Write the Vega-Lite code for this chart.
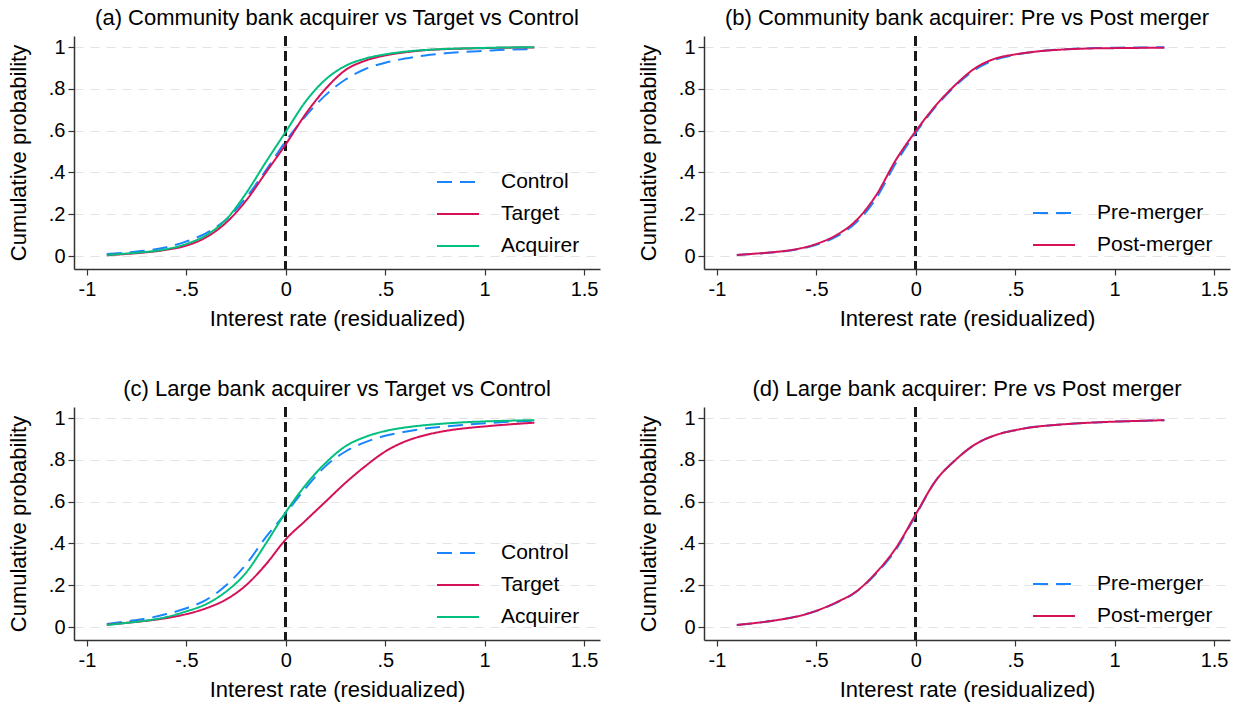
{
  "$schema": "https://vega.github.io/schema/vega-lite/v6.json",
  "background": "white",
  "padding": {"left": 7, "top": 7, "right": 5, "bottom": 5},
  "columns": 2,
  "spacing": {"row": 49, "column": 37},
  "resolve": {"scale": {"color": "independent", "strokeDash": "independent"}},
  "data": {"values": [
    {"panel":"a","series":"Control","x":-0.9,"p":0.01},{"panel":"a","series":"Control","x":-0.8,"p":0.017},{"panel":"a","series":"Control","x":-0.7,"p":0.026},{"panel":"a","series":"Control","x":-0.6,"p":0.042},{"panel":"a","series":"Control","x":-0.5,"p":0.07},{"panel":"a","series":"Control","x":-0.4,"p":0.11},{"panel":"a","series":"Control","x":-0.3,"p":0.175},{"panel":"a","series":"Control","x":-0.2,"p":0.28},{"panel":"a","series":"Control","x":-0.1,"p":0.41},{"panel":"a","series":"Control","x":0,"p":0.55},{"panel":"a","series":"Control","x":0.1,"p":0.67},{"panel":"a","series":"Control","x":0.2,"p":0.77},{"panel":"a","series":"Control","x":0.3,"p":0.845},{"panel":"a","series":"Control","x":0.4,"p":0.895},{"panel":"a","series":"Control","x":0.5,"p":0.925},{"panel":"a","series":"Control","x":0.6,"p":0.945},{"panel":"a","series":"Control","x":0.7,"p":0.96},{"panel":"a","series":"Control","x":0.8,"p":0.97},{"panel":"a","series":"Control","x":0.9,"p":0.977},{"panel":"a","series":"Control","x":1.0,"p":0.982},{"panel":"a","series":"Control","x":1.1,"p":0.987},{"panel":"a","series":"Control","x":1.25,"p":0.99},
    {"panel":"a","series":"Target","x":-0.9,"p":0.004},{"panel":"a","series":"Target","x":-0.8,"p":0.01},{"panel":"a","series":"Target","x":-0.7,"p":0.018},{"panel":"a","series":"Target","x":-0.6,"p":0.03},{"panel":"a","series":"Target","x":-0.5,"p":0.05},{"panel":"a","series":"Target","x":-0.4,"p":0.09},{"panel":"a","series":"Target","x":-0.3,"p":0.16},{"panel":"a","series":"Target","x":-0.2,"p":0.265},{"panel":"a","series":"Target","x":-0.1,"p":0.4},{"panel":"a","series":"Target","x":0,"p":0.535},{"panel":"a","series":"Target","x":0.1,"p":0.68},{"panel":"a","series":"Target","x":0.2,"p":0.8},{"panel":"a","series":"Target","x":0.3,"p":0.89},{"panel":"a","series":"Target","x":0.4,"p":0.935},{"panel":"a","series":"Target","x":0.5,"p":0.96},{"panel":"a","series":"Target","x":0.6,"p":0.975},{"panel":"a","series":"Target","x":0.7,"p":0.985},{"panel":"a","series":"Target","x":0.8,"p":0.99},{"panel":"a","series":"Target","x":0.9,"p":0.993},{"panel":"a","series":"Target","x":1.0,"p":0.995},{"panel":"a","series":"Target","x":1.1,"p":0.997},{"panel":"a","series":"Target","x":1.25,"p":0.998},
    {"panel":"a","series":"Acquirer","x":-0.9,"p":0.005},{"panel":"a","series":"Acquirer","x":-0.8,"p":0.012},{"panel":"a","series":"Acquirer","x":-0.7,"p":0.02},{"panel":"a","series":"Acquirer","x":-0.6,"p":0.033},{"panel":"a","series":"Acquirer","x":-0.5,"p":0.058},{"panel":"a","series":"Acquirer","x":-0.4,"p":0.1},{"panel":"a","series":"Acquirer","x":-0.3,"p":0.175},{"panel":"a","series":"Acquirer","x":-0.2,"p":0.3},{"panel":"a","series":"Acquirer","x":-0.1,"p":0.45},{"panel":"a","series":"Acquirer","x":0,"p":0.595},{"panel":"a","series":"Acquirer","x":0.1,"p":0.74},{"panel":"a","series":"Acquirer","x":0.2,"p":0.845},{"panel":"a","series":"Acquirer","x":0.3,"p":0.91},{"panel":"a","series":"Acquirer","x":0.4,"p":0.945},{"panel":"a","series":"Acquirer","x":0.5,"p":0.965},{"panel":"a","series":"Acquirer","x":0.6,"p":0.978},{"panel":"a","series":"Acquirer","x":0.7,"p":0.986},{"panel":"a","series":"Acquirer","x":0.8,"p":0.991},{"panel":"a","series":"Acquirer","x":0.9,"p":0.994},{"panel":"a","series":"Acquirer","x":1.0,"p":0.996},{"panel":"a","series":"Acquirer","x":1.1,"p":0.998},{"panel":"a","series":"Acquirer","x":1.25,"p":0.999},
    {"panel":"b","series":"Pre-merger","x":-0.9,"p":0.005},{"panel":"b","series":"Pre-merger","x":-0.8,"p":0.011},{"panel":"b","series":"Pre-merger","x":-0.7,"p":0.019},{"panel":"b","series":"Pre-merger","x":-0.6,"p":0.031},{"panel":"b","series":"Pre-merger","x":-0.5,"p":0.054},{"panel":"b","series":"Pre-merger","x":-0.4,"p":0.093},{"panel":"b","series":"Pre-merger","x":-0.3,"p":0.16},{"panel":"b","series":"Pre-merger","x":-0.2,"p":0.275},{"panel":"b","series":"Pre-merger","x":-0.1,"p":0.445},{"panel":"b","series":"Pre-merger","x":0,"p":0.59},{"panel":"b","series":"Pre-merger","x":0.1,"p":0.715},{"panel":"b","series":"Pre-merger","x":0.2,"p":0.815},{"panel":"b","series":"Pre-merger","x":0.3,"p":0.893},{"panel":"b","series":"Pre-merger","x":0.4,"p":0.94},{"panel":"b","series":"Pre-merger","x":0.5,"p":0.963},{"panel":"b","series":"Pre-merger","x":0.6,"p":0.978},{"panel":"b","series":"Pre-merger","x":0.7,"p":0.987},{"panel":"b","series":"Pre-merger","x":0.8,"p":0.992},{"panel":"b","series":"Pre-merger","x":0.9,"p":0.995},{"panel":"b","series":"Pre-merger","x":1.0,"p":0.997},{"panel":"b","series":"Pre-merger","x":1.1,"p":0.998},{"panel":"b","series":"Pre-merger","x":1.25,"p":0.999},
    {"panel":"b","series":"Post-merger","x":-0.9,"p":0.005},{"panel":"b","series":"Post-merger","x":-0.8,"p":0.012},{"panel":"b","series":"Post-merger","x":-0.7,"p":0.02},{"panel":"b","series":"Post-merger","x":-0.6,"p":0.033},{"panel":"b","series":"Post-merger","x":-0.5,"p":0.058},{"panel":"b","series":"Post-merger","x":-0.4,"p":0.1},{"panel":"b","series":"Post-merger","x":-0.3,"p":0.17},{"panel":"b","series":"Post-merger","x":-0.2,"p":0.29},{"panel":"b","series":"Post-merger","x":-0.1,"p":0.46},{"panel":"b","series":"Post-merger","x":0,"p":0.598},{"panel":"b","series":"Post-merger","x":0.1,"p":0.72},{"panel":"b","series":"Post-merger","x":0.2,"p":0.82},{"panel":"b","series":"Post-merger","x":0.3,"p":0.9},{"panel":"b","series":"Post-merger","x":0.4,"p":0.945},{"panel":"b","series":"Post-merger","x":0.5,"p":0.965},{"panel":"b","series":"Post-merger","x":0.6,"p":0.978},{"panel":"b","series":"Post-merger","x":0.7,"p":0.986},{"panel":"b","series":"Post-merger","x":0.8,"p":0.991},{"panel":"b","series":"Post-merger","x":0.9,"p":0.994},{"panel":"b","series":"Post-merger","x":1.0,"p":0.995},{"panel":"b","series":"Post-merger","x":1.1,"p":0.996},{"panel":"b","series":"Post-merger","x":1.25,"p":0.997},
    {"panel":"c","series":"Control","x":-0.9,"p":0.015},{"panel":"c","series":"Control","x":-0.8,"p":0.027},{"panel":"c","series":"Control","x":-0.7,"p":0.041},{"panel":"c","series":"Control","x":-0.6,"p":0.062},{"panel":"c","series":"Control","x":-0.5,"p":0.09},{"panel":"c","series":"Control","x":-0.4,"p":0.13},{"panel":"c","series":"Control","x":-0.3,"p":0.2},{"panel":"c","series":"Control","x":-0.2,"p":0.3},{"panel":"c","series":"Control","x":-0.1,"p":0.43},{"panel":"c","series":"Control","x":0,"p":0.545},{"panel":"c","series":"Control","x":0.1,"p":0.665},{"panel":"c","series":"Control","x":0.2,"p":0.77},{"panel":"c","series":"Control","x":0.3,"p":0.84},{"panel":"c","series":"Control","x":0.4,"p":0.885},{"panel":"c","series":"Control","x":0.5,"p":0.915},{"panel":"c","series":"Control","x":0.6,"p":0.935},{"panel":"c","series":"Control","x":0.7,"p":0.95},{"panel":"c","series":"Control","x":0.8,"p":0.96},{"panel":"c","series":"Control","x":0.9,"p":0.968},{"panel":"c","series":"Control","x":1.0,"p":0.975},{"panel":"c","series":"Control","x":1.1,"p":0.981},{"panel":"c","series":"Control","x":1.25,"p":0.988},
    {"panel":"c","series":"Target","x":-0.9,"p":0.011},{"panel":"c","series":"Target","x":-0.8,"p":0.02},{"panel":"c","series":"Target","x":-0.7,"p":0.03},{"panel":"c","series":"Target","x":-0.6,"p":0.043},{"panel":"c","series":"Target","x":-0.5,"p":0.062},{"panel":"c","series":"Target","x":-0.4,"p":0.09},{"panel":"c","series":"Target","x":-0.3,"p":0.132},{"panel":"c","series":"Target","x":-0.2,"p":0.2},{"panel":"c","series":"Target","x":-0.1,"p":0.3},{"panel":"c","series":"Target","x":0,"p":0.42},{"panel":"c","series":"Target","x":0.1,"p":0.51},{"panel":"c","series":"Target","x":0.2,"p":0.6},{"panel":"c","series":"Target","x":0.3,"p":0.69},{"panel":"c","series":"Target","x":0.4,"p":0.77},{"panel":"c","series":"Target","x":0.5,"p":0.84},{"panel":"c","series":"Target","x":0.6,"p":0.888},{"panel":"c","series":"Target","x":0.7,"p":0.918},{"panel":"c","series":"Target","x":0.8,"p":0.938},{"panel":"c","series":"Target","x":0.9,"p":0.951},{"panel":"c","series":"Target","x":1.0,"p":0.96},{"panel":"c","series":"Target","x":1.1,"p":0.968},{"panel":"c","series":"Target","x":1.25,"p":0.978},
    {"panel":"c","series":"Acquirer","x":-0.9,"p":0.01},{"panel":"c","series":"Acquirer","x":-0.8,"p":0.02},{"panel":"c","series":"Acquirer","x":-0.7,"p":0.031},{"panel":"c","series":"Acquirer","x":-0.6,"p":0.048},{"panel":"c","series":"Acquirer","x":-0.5,"p":0.075},{"panel":"c","series":"Acquirer","x":-0.4,"p":0.11},{"panel":"c","series":"Acquirer","x":-0.3,"p":0.17},{"panel":"c","series":"Acquirer","x":-0.2,"p":0.26},{"panel":"c","series":"Acquirer","x":-0.1,"p":0.4},{"panel":"c","series":"Acquirer","x":0,"p":0.55},{"panel":"c","series":"Acquirer","x":0.1,"p":0.68},{"panel":"c","series":"Acquirer","x":0.2,"p":0.785},{"panel":"c","series":"Acquirer","x":0.3,"p":0.865},{"panel":"c","series":"Acquirer","x":0.4,"p":0.91},{"panel":"c","series":"Acquirer","x":0.5,"p":0.938},{"panel":"c","series":"Acquirer","x":0.6,"p":0.955},{"panel":"c","series":"Acquirer","x":0.7,"p":0.966},{"panel":"c","series":"Acquirer","x":0.8,"p":0.974},{"panel":"c","series":"Acquirer","x":0.9,"p":0.98},{"panel":"c","series":"Acquirer","x":1.0,"p":0.984},{"panel":"c","series":"Acquirer","x":1.1,"p":0.987},{"panel":"c","series":"Acquirer","x":1.25,"p":0.99},
    {"panel":"d","series":"Pre-merger","x":-0.9,"p":0.01},{"panel":"d","series":"Pre-merger","x":-0.8,"p":0.02},{"panel":"d","series":"Pre-merger","x":-0.7,"p":0.033},{"panel":"d","series":"Pre-merger","x":-0.6,"p":0.05},{"panel":"d","series":"Pre-merger","x":-0.5,"p":0.077},{"panel":"d","series":"Pre-merger","x":-0.4,"p":0.116},{"panel":"d","series":"Pre-merger","x":-0.3,"p":0.168},{"panel":"d","series":"Pre-merger","x":-0.2,"p":0.255},{"panel":"d","series":"Pre-merger","x":-0.1,"p":0.37},{"panel":"d","series":"Pre-merger","x":0,"p":0.535},{"panel":"d","series":"Pre-merger","x":0.1,"p":0.7},{"panel":"d","series":"Pre-merger","x":0.2,"p":0.8},{"panel":"d","series":"Pre-merger","x":0.3,"p":0.875},{"panel":"d","series":"Pre-merger","x":0.4,"p":0.918},{"panel":"d","series":"Pre-merger","x":0.5,"p":0.942},{"panel":"d","series":"Pre-merger","x":0.6,"p":0.958},{"panel":"d","series":"Pre-merger","x":0.7,"p":0.967},{"panel":"d","series":"Pre-merger","x":0.8,"p":0.974},{"panel":"d","series":"Pre-merger","x":0.9,"p":0.979},{"panel":"d","series":"Pre-merger","x":1.0,"p":0.983},{"panel":"d","series":"Pre-merger","x":1.1,"p":0.986},{"panel":"d","series":"Pre-merger","x":1.25,"p":0.99},
    {"panel":"d","series":"Post-merger","x":-0.9,"p":0.01},{"panel":"d","series":"Post-merger","x":-0.8,"p":0.02},{"panel":"d","series":"Post-merger","x":-0.7,"p":0.033},{"panel":"d","series":"Post-merger","x":-0.6,"p":0.05},{"panel":"d","series":"Post-merger","x":-0.5,"p":0.078},{"panel":"d","series":"Post-merger","x":-0.4,"p":0.118},{"panel":"d","series":"Post-merger","x":-0.3,"p":0.17},{"panel":"d","series":"Post-merger","x":-0.2,"p":0.26},{"panel":"d","series":"Post-merger","x":-0.1,"p":0.378},{"panel":"d","series":"Post-merger","x":0,"p":0.54},{"panel":"d","series":"Post-merger","x":0.1,"p":0.7},{"panel":"d","series":"Post-merger","x":0.2,"p":0.8},{"panel":"d","series":"Post-merger","x":0.3,"p":0.875},{"panel":"d","series":"Post-merger","x":0.4,"p":0.918},{"panel":"d","series":"Post-merger","x":0.5,"p":0.942},{"panel":"d","series":"Post-merger","x":0.6,"p":0.958},{"panel":"d","series":"Post-merger","x":0.7,"p":0.967},{"panel":"d","series":"Post-merger","x":0.8,"p":0.974},{"panel":"d","series":"Post-merger","x":0.9,"p":0.979},{"panel":"d","series":"Post-merger","x":1.0,"p":0.983},{"panel":"d","series":"Post-merger","x":1.1,"p":0.986},{"panel":"d","series":"Post-merger","x":1.25,"p":0.99}
  ]},
  "concat": [
    {
      "title": "(a) Community bank acquirer vs Target vs Control",
      "width": 526, "height": 233,
      "layer": [
        {"mark": {"type": "rule", "color": "#1a1a1a", "strokeWidth": 2, "strokeDash": [10, 5]}, "encoding": {"x": {"datum": 0}}},
        {
          "transform": [{"filter": "datum.panel === 'a'"}],
          "mark": {"type": "line", "strokeWidth": 2, "interpolate": "monotone"},
          "encoding": {
            "x": {"field": "x", "type": "quantitative", "scale": {"domain": [-1.065, 1.58], "nice": false, "zero": false}, "axis": {"title": "Interest rate (residualized)", "values": [-1, -0.5, 0, 0.5, 1, 1.5], "labelExpr": "replace(toString(datum.value), '0.', '.')"}},
            "y": {"field": "p", "type": "quantitative", "scale": {"domain": [-0.062, 1.053], "nice": false, "zero": false}, "axis": {"title": "Cumulative probability", "values": [0, 0.2, 0.4, 0.6, 0.8, 1], "labelExpr": "replace(toString(datum.value), '0.', '.')"}},
            "color": {"field": "series", "type": "nominal", "sort": ["Control", "Target", "Acquirer"], "scale": {"domain": ["Control", "Target", "Acquirer"], "range": ["#1a85ff", "#d41159", "#00bf7f"]}, "legend": {"title": null, "orient": "none", "legendX": 362, "legendY": 124}},
            "strokeDash": {"field": "series", "type": "nominal", "sort": ["Control", "Target", "Acquirer"], "scale": {"domain": ["Control", "Target", "Acquirer"], "range": [[15, 8], [1, 0], [1, 0]]}, "legend": {"title": null, "orient": "none", "legendX": 362, "legendY": 124}}
          }
        }
      ]
    },
    {
      "title": "(b) Community bank acquirer: Pre vs Post merger",
      "width": 526, "height": 233,
      "layer": [
        {"mark": {"type": "rule", "color": "#1a1a1a", "strokeWidth": 2, "strokeDash": [10, 5]}, "encoding": {"x": {"datum": 0}}},
        {
          "transform": [{"filter": "datum.panel === 'b'"}],
          "mark": {"type": "line", "strokeWidth": 2, "interpolate": "monotone"},
          "encoding": {
            "x": {"field": "x", "type": "quantitative", "scale": {"domain": [-1.065, 1.58], "nice": false, "zero": false}, "axis": {"title": "Interest rate (residualized)", "values": [-1, -0.5, 0, 0.5, 1, 1.5], "labelExpr": "replace(toString(datum.value), '0.', '.')"}},
            "y": {"field": "p", "type": "quantitative", "scale": {"domain": [-0.062, 1.053], "nice": false, "zero": false}, "axis": {"title": "Cumulative probability", "values": [0, 0.2, 0.4, 0.6, 0.8, 1], "labelExpr": "replace(toString(datum.value), '0.', '.')"}},
            "color": {"field": "series", "type": "nominal", "sort": ["Pre-merger", "Post-merger"], "scale": {"domain": ["Pre-merger", "Post-merger"], "range": ["#1a85ff", "#d41159"]}, "legend": {"title": null, "orient": "none", "legendX": 328, "legendY": 155}},
            "strokeDash": {"field": "series", "type": "nominal", "sort": ["Pre-merger", "Post-merger"], "scale": {"domain": ["Pre-merger", "Post-merger"], "range": [[15, 8], [1, 0]]}, "legend": {"title": null, "orient": "none", "legendX": 328, "legendY": 155}}
          }
        }
      ]
    },
    {
      "title": "(c) Large bank acquirer vs Target vs Control",
      "width": 526, "height": 233,
      "layer": [
        {"mark": {"type": "rule", "color": "#1a1a1a", "strokeWidth": 2, "strokeDash": [10, 5]}, "encoding": {"x": {"datum": 0}}},
        {
          "transform": [{"filter": "datum.panel === 'c'"}],
          "mark": {"type": "line", "strokeWidth": 2, "interpolate": "monotone"},
          "encoding": {
            "x": {"field": "x", "type": "quantitative", "scale": {"domain": [-1.065, 1.58], "nice": false, "zero": false}, "axis": {"title": "Interest rate (residualized)", "values": [-1, -0.5, 0, 0.5, 1, 1.5], "labelExpr": "replace(toString(datum.value), '0.', '.')"}},
            "y": {"field": "p", "type": "quantitative", "scale": {"domain": [-0.062, 1.053], "nice": false, "zero": false}, "axis": {"title": "Cumulative probability", "values": [0, 0.2, 0.4, 0.6, 0.8, 1], "labelExpr": "replace(toString(datum.value), '0.', '.')"}},
            "color": {"field": "series", "type": "nominal", "sort": ["Control", "Target", "Acquirer"], "scale": {"domain": ["Control", "Target", "Acquirer"], "range": ["#1a85ff", "#d41159", "#00bf7f"]}, "legend": {"title": null, "orient": "none", "legendX": 362, "legendY": 124}},
            "strokeDash": {"field": "series", "type": "nominal", "sort": ["Control", "Target", "Acquirer"], "scale": {"domain": ["Control", "Target", "Acquirer"], "range": [[15, 8], [1, 0], [1, 0]]}, "legend": {"title": null, "orient": "none", "legendX": 362, "legendY": 124}}
          }
        }
      ]
    },
    {
      "title": "(d) Large bank acquirer: Pre vs Post merger",
      "width": 526, "height": 233,
      "layer": [
        {"mark": {"type": "rule", "color": "#1a1a1a", "strokeWidth": 2, "strokeDash": [10, 5]}, "encoding": {"x": {"datum": 0}}},
        {
          "transform": [{"filter": "datum.panel === 'd'"}],
          "mark": {"type": "line", "strokeWidth": 2, "interpolate": "monotone"},
          "encoding": {
            "x": {"field": "x", "type": "quantitative", "scale": {"domain": [-1.065, 1.58], "nice": false, "zero": false}, "axis": {"title": "Interest rate (residualized)", "values": [-1, -0.5, 0, 0.5, 1, 1.5], "labelExpr": "replace(toString(datum.value), '0.', '.')"}},
            "y": {"field": "p", "type": "quantitative", "scale": {"domain": [-0.062, 1.053], "nice": false, "zero": false}, "axis": {"title": "Cumulative probability", "values": [0, 0.2, 0.4, 0.6, 0.8, 1], "labelExpr": "replace(toString(datum.value), '0.', '.')"}},
            "color": {"field": "series", "type": "nominal", "sort": ["Pre-merger", "Post-merger"], "scale": {"domain": ["Pre-merger", "Post-merger"], "range": ["#1a85ff", "#d41159"]}, "legend": {"title": null, "orient": "none", "legendX": 328, "legendY": 155}},
            "strokeDash": {"field": "series", "type": "nominal", "sort": ["Pre-merger", "Post-merger"], "scale": {"domain": ["Pre-merger", "Post-merger"], "range": [[15, 8], [1, 0]]}, "legend": {"title": null, "orient": "none", "legendX": 328, "legendY": 155}}
          }
        }
      ]
    }
  ],
  "config": {
    "font": "Liberation Sans",
    "view": {"stroke": null},
    "title": {"fontSize": 22, "fontWeight": "normal", "font": "Liberation Sans", "color": "#000", "offset": 5},
    "axis": {
      "labelFont": "Liberation Sans", "titleFont": "Liberation Sans",
      "labelFontSize": 20, "titleFontSize": 22, "titleFontWeight": "normal",
      "labelColor": "#000", "titleColor": "#000",
      "domainColor": "#333", "domainWidth": 1.5,
      "tickColor": "#333", "tickWidth": 1.2, "tickSize": 6,
      "gridColor": "#e2e2e2", "gridDash": [9, 7], "gridWidth": 1
    },
    "axisX": {"labelPadding": 4, "titlePadding": 9, "labelFlush": false},
    "axisY": {"labelPadding": 3, "titlePadding": 18},
    "legend": {
      "labelFont": "Liberation Sans", "labelFontSize": 21, "labelColor": "#000",
      "symbolType": "stroke", "symbolSize": 1764, "symbolStrokeWidth": 2,
      "labelOffset": 21, "rowPadding": 0, "padding": 0
    }
  }
}
